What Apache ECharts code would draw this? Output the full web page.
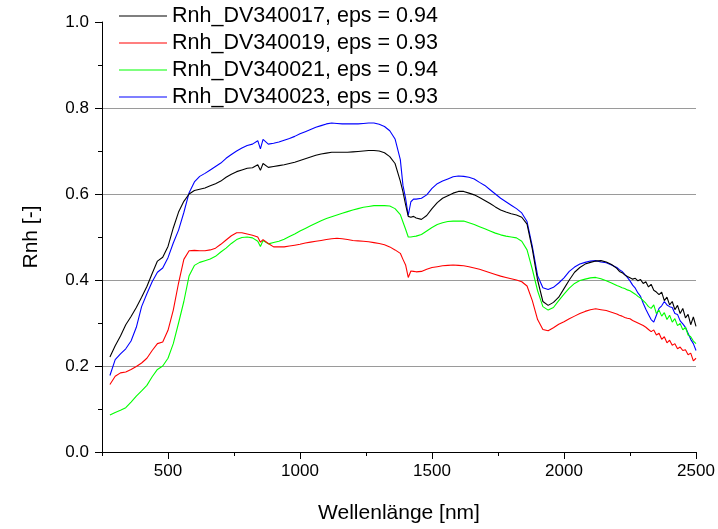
<!DOCTYPE html>
<html>
<head>
<meta charset="utf-8">
<script src="https://cdn.jsdelivr.net/npm/echarts@6/dist/echarts.min.js"></script>
<style>html,body{margin:0;padding:0;background:#fff;}#c{width:718px;height:529px;}</style>
</head>
<body>
<div id="c"></div>
<script>
var wavelengths = [280,300,320,340,360,380,400,420,440,460,480,500,520,540,560,580,600,620,640,660,680,700,720,740,760,780,800,820,840,850,860,880,900,920,940,960,980,1000,1020,1040,1060,1080,1100,1120,1140,1160,1180,1200,1220,1240,1260,1280,1300,1320,1340,1360,1380,1390,1400,1410,1420,1430,1440,1460,1480,1500,1520,1540,1560,1580,1600,1620,1640,1660,1680,1700,1720,1740,1760,1780,1800,1820,1840,1860,1880,1900,1920,1940,1960,1980,2000,2020,2040,2060,2080,2100,2120,2140,2160,2180,2200,2210,2220,2230,2240,2250,2260,2270,2280,2290,2300,2310,2320,2330,2340,2350,2360,2370,2380,2390,2400,2410,2420,2430,2440,2450,2460,2470,2480,2490,2500];

var rnh17 = [0.221,0.247,0.270,0.296,0.315,0.336,0.360,0.385,0.415,0.444,0.453,0.478,0.521,0.558,0.583,0.600,0.608,0.611,0.614,0.619,0.624,0.630,0.639,0.646,0.652,0.656,0.660,0.661,0.668,0.655,0.671,0.662,0.664,0.666,0.668,0.671,0.674,0.678,0.682,0.686,0.690,0.693,0.695,0.697,0.697,0.697,0.697,0.698,0.699,0.700,0.701,0.701,0.700,0.696,0.687,0.671,0.630,0.605,0.575,0.548,0.546,0.548,0.544,0.541,0.550,0.566,0.580,0.590,0.596,0.602,0.606,0.606,0.602,0.598,0.592,0.585,0.578,0.570,0.563,0.558,0.554,0.551,0.546,0.530,0.472,0.400,0.350,0.341,0.348,0.360,0.380,0.400,0.418,0.429,0.437,0.441,0.444,0.445,0.442,0.436,0.427,0.420,0.417,0.412,0.408,0.405,0.402,0.404,0.398,0.401,0.392,0.396,0.384,0.390,0.376,0.372,0.366,0.372,0.352,0.360,0.342,0.350,0.331,0.341,0.322,0.334,0.312,0.320,0.296,0.314,0.292];

var rnh19 = [0.157,0.176,0.184,0.186,0.192,0.199,0.207,0.218,0.236,0.252,0.256,0.283,0.330,0.393,0.448,0.468,0.469,0.468,0.468,0.470,0.474,0.483,0.493,0.503,0.510,0.510,0.507,0.504,0.500,0.488,0.494,0.485,0.477,0.477,0.477,0.479,0.481,0.483,0.486,0.488,0.490,0.492,0.494,0.496,0.497,0.496,0.494,0.492,0.491,0.490,0.489,0.487,0.485,0.482,0.477,0.470,0.462,0.448,0.435,0.406,0.421,0.420,0.419,0.420,0.425,0.429,0.431,0.433,0.434,0.435,0.434,0.433,0.431,0.428,0.425,0.421,0.417,0.413,0.409,0.406,0.403,0.400,0.396,0.386,0.352,0.308,0.285,0.282,0.289,0.297,0.303,0.310,0.316,0.322,0.327,0.331,0.333,0.331,0.329,0.325,0.321,0.318,0.316,0.313,0.311,0.310,0.306,0.303,0.300,0.297,0.294,0.290,0.285,0.280,0.284,0.272,0.276,0.262,0.268,0.254,0.260,0.248,0.252,0.240,0.244,0.236,0.238,0.226,0.230,0.212,0.218];

var rnh21 = [0.086,0.092,0.097,0.103,0.116,0.130,0.142,0.155,0.175,0.192,0.200,0.218,0.252,0.300,0.350,0.410,0.434,0.441,0.445,0.449,0.455,0.465,0.474,0.485,0.494,0.499,0.500,0.498,0.490,0.478,0.492,0.484,0.487,0.490,0.495,0.501,0.507,0.514,0.520,0.526,0.532,0.538,0.543,0.547,0.551,0.555,0.559,0.563,0.566,0.569,0.571,0.573,0.573,0.573,0.572,0.566,0.552,0.535,0.518,0.500,0.500,0.501,0.502,0.506,0.514,0.522,0.529,0.533,0.536,0.537,0.537,0.537,0.533,0.529,0.524,0.519,0.514,0.509,0.505,0.502,0.500,0.498,0.490,0.470,0.425,0.375,0.338,0.330,0.336,0.352,0.367,0.381,0.392,0.399,0.402,0.405,0.406,0.403,0.398,0.393,0.387,0.385,0.382,0.380,0.377,0.375,0.371,0.367,0.362,0.358,0.352,0.346,0.338,0.334,0.342,0.322,0.330,0.316,0.324,0.308,0.318,0.302,0.310,0.294,0.299,0.284,0.290,0.272,0.268,0.258,0.252];

var rnh23 = [0.178,0.215,0.228,0.240,0.258,0.290,0.338,0.368,0.396,0.418,0.428,0.452,0.486,0.516,0.557,0.603,0.628,0.641,0.648,0.656,0.664,0.672,0.683,0.692,0.700,0.707,0.713,0.716,0.724,0.705,0.727,0.716,0.718,0.721,0.725,0.729,0.734,0.740,0.745,0.750,0.755,0.759,0.763,0.765,0.764,0.763,0.763,0.763,0.763,0.764,0.765,0.765,0.762,0.757,0.747,0.728,0.680,0.620,0.590,0.550,0.582,0.588,0.588,0.590,0.598,0.613,0.624,0.630,0.635,0.640,0.642,0.641,0.639,0.635,0.627,0.620,0.610,0.600,0.590,0.582,0.574,0.566,0.556,0.536,0.478,0.410,0.382,0.378,0.383,0.393,0.405,0.420,0.430,0.437,0.441,0.444,0.445,0.442,0.440,0.435,0.429,0.424,0.420,0.413,0.406,0.398,0.388,0.381,0.370,0.362,0.346,0.332,0.320,0.308,0.302,0.318,0.334,0.340,0.350,0.342,0.338,0.336,0.322,0.320,0.305,0.298,0.290,0.276,0.262,0.252,0.236];

var seriesNames = ['Rnh_DV340017, eps = 0.94','Rnh_DV340019, eps = 0.93','Rnh_DV340021, eps = 0.94','Rnh_DV340023, eps = 0.93'];
var seriesValues = [rnh17, rnh19, rnh21, rnh23];
var seriesColors = ['#000000','#ff0000','#00ff00','#0000ff'];
var xMajorTicks = [500,1000,1500,2000,2500];
var xMinorTicks = [250,750,1250,1750,2250];

var FONT = '"Liberation Sans", Arial, Helvetica, sans-serif';

function pairs(vals){ return wavelengths.map(function(w,i){ return [w, vals[i]]; }); }

var chart = echarts.init(document.getElementById('c'), null, {renderer:'canvas'});
chart.setOption({
  animation: false,
  backgroundColor: '#ffffff',
  textStyle: {fontFamily: FONT},
  grid: {left: 102, right: 22, top: 22, bottom: 72, containLabel: false},
  legend: {
    orient: 'vertical', left: 119, top: 5, padding: 0,
    icon: 'rect', itemWidth: 48, itemHeight: 1, itemGap: 5,
    textStyle: {fontSize: 21.5, color: '#000', fontFamily: FONT, lineHeight: 22},
    data: seriesNames
  },
  xAxis: [{
    type: 'value', min: 250, max: 2500, interval: 250,
    name: 'Wellenlänge [nm]', nameLocation: 'middle', nameGap: 51,
    nameTextStyle: {fontSize: 21, color: '#000', fontFamily: FONT},
    axisLine: {show: true, onZero: false, lineStyle: {color: '#000', width: 1}},
    axisTick: {show: true, length: 7, customValues: xMajorTicks, lineStyle: {color: '#000'}},
    axisLabel: {customValues: xMajorTicks, fontSize: 17, color: '#000', margin: 11, fontFamily: FONT,
      formatter: function(v){ return String(v); }},
    splitLine: {show: false}
  },{
    type: 'value', min: 250, max: 2500, interval: 250, position: 'bottom',
    axisLine: {show: false, onZero: false},
    axisTick: {show: true, length: 4, customValues: xMinorTicks, lineStyle: {color: '#000'}},
    axisLabel: {show: false},
    splitLine: {show: false}
  }],
  yAxis: {
    type: 'value', min: 0, max: 1, interval: 0.2,
    name: 'Rnh [-]', nameLocation: 'middle', nameGap: 60, nameRotate: 90,
    nameTextStyle: {fontSize: 21, color: '#000', fontFamily: FONT},
    axisLine: {show: true, onZero: false, lineStyle: {color: '#000', width: 1}},
    axisTick: {show: true, length: 7, lineStyle: {color: '#000'}},
    minorTick: {show: true, splitNumber: 2, length: 4, lineStyle: {color: '#000'}},
    axisLabel: {fontSize: 17, color: '#000', margin: 13, fontFamily: FONT,
      formatter: function(v){ return v.toFixed(1); }},
    splitLine: {show: true, showMinLine: false, showMaxLine: false, lineStyle: {color: '#9a9a9a', width: 1}}
  },
  series: seriesNames.map(function(n, i){
    return {
      name: n, type: 'line', xAxisIndex: 0, data: pairs(seriesValues[i]),
      symbol: 'none', showSymbol: false, smooth: false,
      lineStyle: {color: seriesColors[i], width: 1.1},
      itemStyle: {color: seriesColors[i]},
      z: 10 - i
    };
  })
});
</script>
</body>
</html>
